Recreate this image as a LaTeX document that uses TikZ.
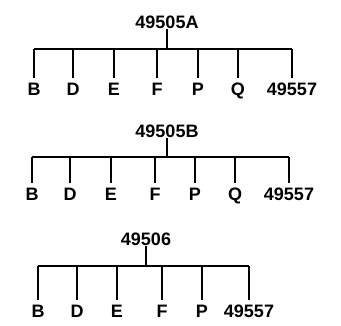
\documentclass[tikz,border=0pt]{standalone}
\usepackage{fontspec}
\setmainfont{Liberation Sans}
\usepackage{tikz}
\usetikzlibrary{positioning}

\begin{document}
\begin{tikzpicture}[
  x=1pt,y=-1pt,
  leaf/.style={inner xsep=0pt,inner ysep=4pt,anchor=base,font=\fontsize{18}{20}\selectfont\bfseries},
  root/.style={leaf,inner ysep=0.5pt},
  link/.style={line width=1.5pt}
]
\useasboundingbox (0,0) rectangle (341,325);
% first tree
\node[root] (a) at (167,28) {49505A};
\coordinate (abar) at (0,49);
\node[leaf] (aB) at (34,95) {B};
\node[leaf] (aD) at (73,95) {D};
\node[leaf] (aE) at (114,95) {E};
\node[leaf] (aF) at (157,95) {F};
\node[leaf] (aP) at (198,95) {P};
\node[leaf] (aQ) at (238,95) {Q};
\node[leaf] (aN) at (292,95) {49557};
\draw[link] (aB.north |- abar) -- (aN.north |- abar);
\draw[link] (a.south) -- (a.south |- abar);
\draw[link] (aB.north |- abar) -- (aB.north);
\draw[link] (aD.north |- abar) -- (aD.north);
\draw[link] (aE.north |- abar) -- (aE.north);
\draw[link] (aF.north |- abar) -- (aF.north);
\draw[link] (aP.north |- abar) -- (aP.north);
\draw[link] (aQ.north |- abar) -- (aQ.north);
\draw[link] (aN.north |- abar) -- (aN.north);
% second tree
\node[root] (b) at (167,137) {49505B};
\coordinate (bbar) at (0,157);
\node[leaf] (bB) at (32,200) {B};
\node[leaf] (bD) at (70,200) {D};
\node[leaf] (bE) at (111,200) {E};
\node[leaf] (bF) at (155,200) {F};
\node[leaf] (bP) at (195,200) {P};
\node[leaf] (bQ) at (235,200) {Q};
\node[leaf] (bN) at (289,200) {49557};
\draw[link] (bB.north |- bbar) -- (bN.north |- bbar);
\draw[link] (b.south) -- (b.south |- bbar);
\draw[link] (bB.north |- bbar) -- (bB.north);
\draw[link] (bD.north |- bbar) -- (bD.north);
\draw[link] (bE.north |- bbar) -- (bE.north);
\draw[link] (bF.north |- bbar) -- (bF.north);
\draw[link] (bP.north |- bbar) -- (bP.north);
\draw[link] (bQ.north |- bbar) -- (bQ.north);
\draw[link] (bN.north |- bbar) -- (bN.north);
% third tree
\node[root] (c) at (146,245) {49506};
\coordinate (cbar) at (0,266);
\node[leaf] (cB) at (38,317) {B};
\node[leaf] (cD) at (77,317) {D};
\node[leaf] (cE) at (117,317) {E};
\node[leaf] (cF) at (162,317) {F};
\node[leaf] (cP) at (202,317) {P};
\node[leaf] (cN) at (249,317) {49557};
\draw[link] (cB.north |- cbar) -- (cN.north |- cbar);
\draw[link] (c.south) -- (c.south |- cbar);
\draw[link] (cB.north |- cbar) -- (cB.north);
\draw[link] (cD.north |- cbar) -- (cD.north);
\draw[link] (cE.north |- cbar) -- (cE.north);
\draw[link] (cF.north |- cbar) -- (cF.north);
\draw[link] (cP.north |- cbar) -- (cP.north);
\draw[link] (cN.north |- cbar) -- (cN.north);
\end{tikzpicture}
\end{document}
